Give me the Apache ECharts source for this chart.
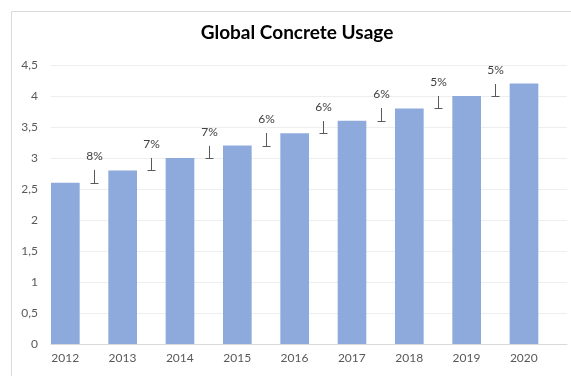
<!DOCTYPE html>
<html>
<head>
<meta charset="utf-8">
<script src="https://cdn.jsdelivr.net/npm/echarts@6/dist/echarts.min.js"></script>
<style>
html, body { margin: 0; padding: 0; background: #fff; }
#main { width: 571px; height: 376px; }
</style>
</head>
<body>
<div id="main"></div>
<script>
var years = ['2012', '2013', '2014', '2015', '2016', '2017', '2018', '2019', '2020'];
var usage = [2.6, 2.8, 3.0, 3.2, 3.4, 3.6, 3.8, 4.0, 4.2];
var growth = ['8%', '7%', '7%', '6%', '6%', '6%', '5%', '5%'];
var yTicks = [0, 0.5, 1, 1.5, 2, 2.5, 3, 3.5, 4, 4.5];

var font = 'Lato, "Open Sans", sans-serif';

// one step per gap: [category, from value, to value, label]
var steps = [];
for (var i = 0; i < growth.length; i++) {
	steps.push([i, usage[i], usage[i + 1], growth[i]]);
}

var myChart = echarts.init(document.getElementById('main'));
myChart.setOption({
	animation : false,
	graphic : [ {
		type : 'rect',
		shape : { x : 11.5, y : 11.5, width : 700, height : 500 },
		style : { fill : 'none', stroke : '#d9d9d9', lineWidth : 1 },
		silent : true
	}, {
		type : 'text',
		x : 297,
		y : 23,
		style : {
			text : 'Global Concrete Usage',
			fontFamily : font,
			fontSize : 19,
			fontWeight : 'bold',
			fill : '#000',
			align : 'center',
			verticalAlign : 'top'
		}
	} ],
	grid : {
		left : 51,
		right : 4,
		top : 65,
		bottom : 32
	},
	xAxis : {
		type : 'category',
		data : years,
		axisTick : { show : false },
		axisLine : { lineStyle : { color : '#d9d9d9' } },
		axisLabel : {
			fontFamily : font,
			fontSize : 12,
			color : '#595959',
			margin : 8,
			padding : [0, 29, 0, 0]
		}
	},
	yAxis : {
		type : 'value',
		min : yTicks[0],
		max : yTicks[yTicks.length - 1],
		interval : 0.5,
		axisLine : { show : false },
		axisTick : { show : false },
		splitLine : { lineStyle : { color : '#eeeeee' } },
		axisLabel : {
			fontFamily : font,
			fontSize : 12,
			color : '#595959',
			margin : 13,
			formatter : function(v) {
				return String(v).replace('.', ',');
			}
		}
	},
	series : [ {
		type : 'bar',
		data : usage,
		barGap : 0,
		barCategoryGap : 0,
		itemStyle : { color : '#8eaadc' }
	}, {
		type : 'bar',
		data : usage.map(function() { return 0; }),
		itemStyle : { color : 'transparent' },
		silent : true
	}, {
		type : 'custom',
		data : steps,
		encode : { x : 0, y : [1, 2] },
		renderItem : function(params, api) {
			var off = api.size([1, 0])[0] / 4;
			var bottom = api.coord([api.value(0), api.value(1)]);
			var top = api.coord([api.value(0), api.value(2)]);
			var x = Math.round(bottom[0] + off) + 0.5;
			var yb = Math.round(bottom[1]) + 0.5;
			var yt = Math.round(top[1]);
			var lineStyle = { stroke : '#595959', lineWidth : 1 };
			return {
				type : 'group',
				children : [ {
					type : 'line',
					shape : { x1 : x, y1 : yt, x2 : x, y2 : yb },
					style : lineStyle
				}, {
					type : 'line',
					shape : { x1 : x - 4, y1 : yb, x2 : x + 4, y2 : yb },
					style : lineStyle
				}, {
					type : 'text',
					x : x,
					y : yt - 14,
					style : {
						text : steps[params.dataIndex][3],
						fontFamily : font,
						fontSize : 12,
						fill : '#404040',
						align : 'center',
						verticalAlign : 'middle'
					}
				} ]
			};
		}
	} ]
});
</script>
</body>
</html>
